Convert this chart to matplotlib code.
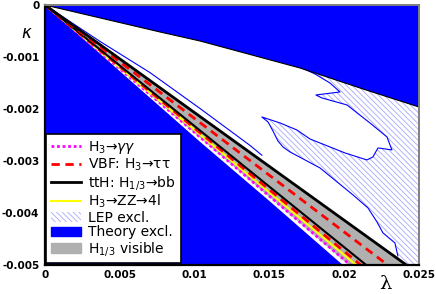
import numpy as np
import matplotlib
matplotlib.use("Agg")
import matplotlib.pyplot as plt
from matplotlib.lines import Line2D
from matplotlib.patches import Patch

# ── Data ──────────────────────────────────────────────────────────────────────
# theory-excluded boundaries
th_up_lam = [0.0, 0.00769, 0.01036, 0.01705, 0.0213, 0.025]
th_up_kap = [0.0, -0.000519, -0.000692, -0.001212, -0.00162, -0.001962]
th_lo_lam = [0.0, 0.0057, 0.0104, 0.0150, 0.0199]
th_lo_kap = [0.0, -0.00145, -0.00264, -0.00377, -0.0050]

# LEP excluded region (outline of the hatched area)
lep_lam = [0.01671, 0.01718, 0.01805, 0.01905, 0.01972, 0.01811, 0.01851, 0.02019,
           0.02172, 0.02286, 0.02319, 0.02226, 0.02192, 0.02152, 0.02005, 0.01905,
           0.01771, 0.01684, 0.01571, 0.01450, 0.01491, 0.01524, 0.01557, 0.01591,
           0.01638, 0.01838, 0.02059, 0.02159, 0.02219, 0.02259, 0.02339, 0.02359,
           0.02406, 0.0264, 0.0264]
lep_kap = [-0.000673, -0.001211, -0.001327, -0.001500, -0.001673, -0.001731, -0.001788,
           -0.001923, -0.002269, -0.002538, -0.002788, -0.002750, -0.002923, -0.002981,
           -0.002846, -0.002731, -0.002577, -0.002404, -0.002269, -0.002154, -0.002250,
           -0.002423, -0.002615, -0.002731, -0.002827, -0.003134, -0.003654, -0.003904,
           -0.004173, -0.004384, -0.004577, -0.004827, -0.00519, -0.00519, -0.000673]
# LEP contour running alongside the band
lepA_lam = [0.0, 0.00368, 0.00702, 0.01036, 0.01370, 0.01450]
lepA_kap = [0.0, -0.000700, -0.001300, -0.001990, -0.002700, -0.002890]

# H_1/3 visible band
band_lam = [0.0, 0.0203, 0.02415]
band_kap = [0.0, -0.005, -0.005]

# signal curves
tth_up_lam, tth_up_kap = [0.0, 0.02415], [0.0, -0.005]
tth_lo_lam, tth_lo_kap = [0.0, 0.02146], [0.0, -0.005]
vbf_up_lam, vbf_up_kap = [0.0, 0.0229], [0.0, -0.005]
vbf_lo_lam, vbf_lo_kap = [0.0, 0.0211], [0.0, -0.005]
zz_lam, zz_kap = [0.0, 0.0208], [0.0, -0.005]
gg_lam, gg_kap = [0.0, 0.0204], [0.0, -0.005]

xticks = [0, 0.005, 0.01, 0.015, 0.02, 0.025]
xticklabels = ["0", "0.005", "0.01", "0.015", "0.02", "0.025"]
yticks = [0, -0.001, -0.002, -0.003, -0.004, -0.005]
yticklabels = ["0", "-0.001", "-0.002", "-0.003", "-0.004", "-0.005"]

BLUE = "#0000ff"
HATCH = "#a8a8ff"
GREY = "#b0b0b0"
HPAT = "\\" * 6

plt.rcParams["hatch.linewidth"] = 0.6

fig = plt.figure(figsize=(4.36, 2.94), dpi=100)
ax = fig.add_axes([0.103, 0.099, 0.858, 0.884])

# LEP hatch
ax.fill(lep_lam, lep_kap, facecolor="white", edgecolor=HATCH, hatch=HPAT,
        linewidth=0, zorder=1)
ax.plot(lep_lam[1:-3], lep_kap[1:-3], color=BLUE, lw=0.8, zorder=1.1)
ax.plot(lepA_lam, lepA_kap, color=BLUE, lw=0.8, zorder=1.1)

# theory excluded
ax.fill(th_up_lam + [0.025, 0.0], th_up_kap + [0.0, 0.0], color=BLUE, lw=0, zorder=1.5)
ax.plot(th_up_lam, th_up_kap, color="black", lw=0.8, zorder=1.55)
ax.fill(th_lo_lam + [0.0], th_lo_kap + [-0.005], color=BLUE, lw=0, zorder=1.5)

# visible band
ax.fill(band_lam, band_kap, color=GREY, lw=0, zorder=1.6)

ax.plot(gg_lam, gg_kap, color="magenta", lw=2, ls=(0, (1, 1)), zorder=2)
ax.plot(zz_lam, zz_kap, color="yellow", lw=1.5, zorder=2)
ax.plot(vbf_lo_lam, vbf_lo_kap, color="red", lw=2, ls=(0, (3, 2)), zorder=2)
ax.plot(tth_lo_lam, tth_lo_kap, color="black", lw=1.5, zorder=2)
ax.plot(vbf_up_lam, vbf_up_kap, color="red", lw=2, ls=(0, (3, 2)), zorder=2)
ax.plot(tth_up_lam, tth_up_kap, color="black", lw=2, zorder=2)

ax.set_xlim(0, 0.025)
ax.set_ylim(-0.005, 0)
ax.set_xticks(xticks)
ax.set_xticklabels(xticklabels, fontsize=7.5, fontweight="bold")
ax.set_yticks(yticks)
ax.set_yticklabels(yticklabels, fontsize=7.5, fontweight="bold")
ax.tick_params(length=0, pad=4)

for side in ("left", "bottom"):
    ax.spines[side].set_linewidth(1.6)
    ax.spines[side].set_color("black")
for side in ("top", "right"):
    ax.spines[side].set_linewidth(1.4)
    ax.spines[side].set_color("#808080")

ax.text(-0.048, 0.892, r"$\kappa$", transform=ax.transAxes, fontsize=12,
        ha="center", va="center")
ax.text(0.909, -0.075, "λ", transform=ax.transAxes, fontsize=14,
        family="DejaVu Serif", ha="center", va="center")

handles = [
    Line2D([], [], color="magenta", lw=2, ls=(0, (1, 1))),
    Line2D([], [], color="red", lw=2, ls=(0, (3, 2))),
    Line2D([], [], color="black", lw=2),
    Line2D([], [], color="yellow", lw=1.5),
    Patch(facecolor="white", edgecolor=HATCH, hatch=HPAT, lw=0),
    Patch(facecolor=BLUE, edgecolor=BLUE),
    Patch(facecolor=GREY, edgecolor=GREY),
]
labels = [
    r"H$_3$→$\gamma\gamma$",
    "VBF: H$_3$→ττ",
    "ttH: H$_{1/3}$→bb",
    "H$_3$→ZZ→4l",
    "LEP excl.",
    "Theory excl.",
    "H$_{1/3}$ visible",
]
leg = ax.legend(handles, labels, loc="lower left", bbox_to_anchor=(0.003, 0.008),
                borderaxespad=0, fontsize=10, fancybox=False, framealpha=1,
                edgecolor="black", handlelength=2.2, handletextpad=0.5,
                labelspacing=0.05, borderpad=0.35)
leg.get_frame().set_linewidth(1.2)
leg.set_zorder(5)

fig.savefig("out.png", dpi=100)
